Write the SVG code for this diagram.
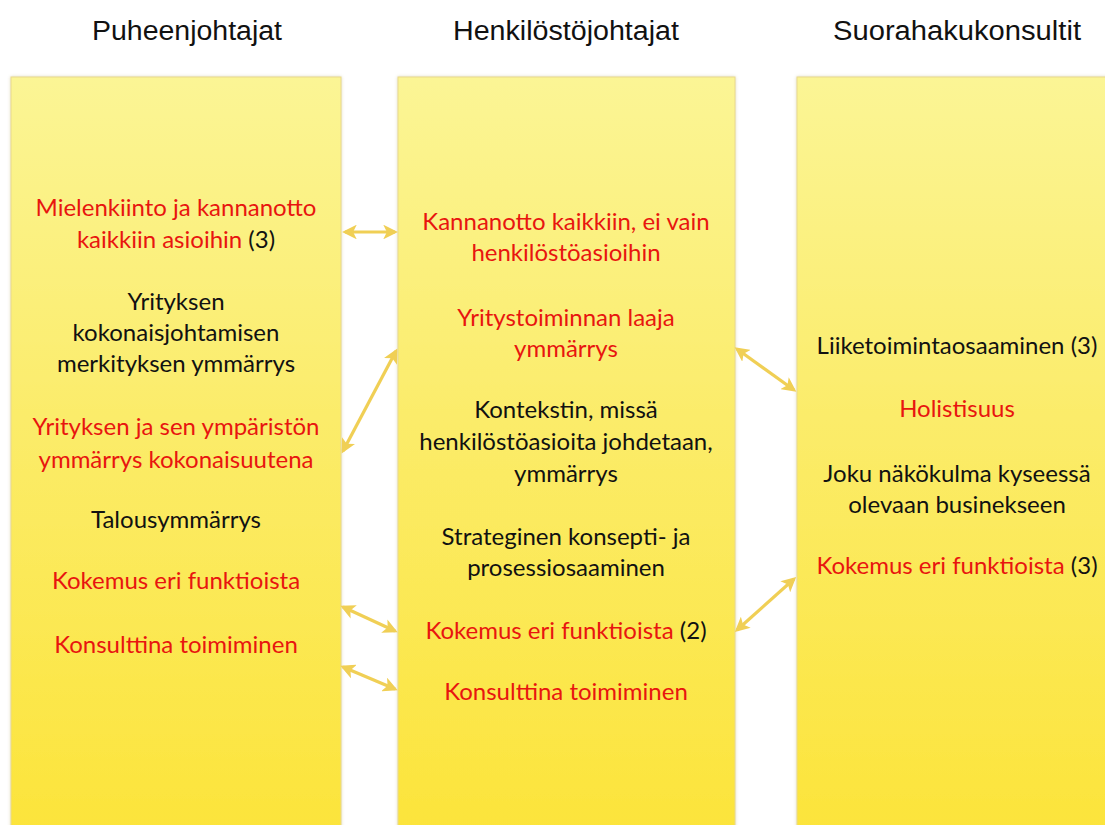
<svg xmlns="http://www.w3.org/2000/svg" width="1105" height="825" viewBox="0 0 1105 825">
  <defs>
    <linearGradient id="colFill" x1="0" y1="0" x2="0" y2="1">
      <stop offset="0" stop-color="#FBF595"/>
      <stop offset="0.45" stop-color="#FBEC6A"/>
      <stop offset="1" stop-color="#FCE43A"/>
    </linearGradient>
    <filter id="soft" x="-5%" y="-5%" width="110%" height="110%">
      <feGaussianBlur in="SourceAlpha" stdDeviation="1.5"/>
      <feOffset dx="0" dy="0" result="b"/>
      <feFlood flood-color="#9a8a40" flood-opacity="0.35"/>
      <feComposite in2="b" operator="in"/>
      <feMerge><feMergeNode/><feMergeNode in="SourceGraphic"/></feMerge>
    </filter>
    <marker id="head" viewBox="0 0 10 10" refX="8" refY="5" markerWidth="4.6" markerHeight="4.6" orient="auto-start-reverse" markerUnits="strokeWidth">
      <path d="M0,0 L10,5 L0,10 L2.5,5 z" fill="#F0CF55"/>
    </marker>
  </defs>
  <style>
    .col { fill: url(#colFill); stroke: #EAD98C; stroke-width: 1; }
    .head { font-family: "Liberation Sans", Arial, sans-serif; font-size: 27px; fill: #111; text-anchor: middle; }
    .t { font-family: Lato, "Open Sans", sans-serif; font-size: 24px; text-anchor: middle; fill: #111; }
    .r { fill: #E8150F; }
    .k { fill: #111; }
    .arrow { stroke: #F0CF55; stroke-width: 3.2; fill: none; marker-start: url(#head); marker-end: url(#head); }
  </style>

  <rect width="1105" height="825" fill="#FFFFFF"/>

  <!-- column headings -->
  <text class="head" x="187" y="40" textLength="190" lengthAdjust="spacingAndGlyphs">Puheenjohtajat</text>
  <text class="head" x="566" y="40" textLength="226" lengthAdjust="spacingAndGlyphs">Henkilöstöjohtajat</text>
  <text class="head" x="957" y="40" textLength="248" lengthAdjust="spacingAndGlyphs">Suorahakukonsultit</text>

  <!-- left column -->
  <g id="puheenjohtajat">
    <rect class="col" x="11" y="77" width="330" height="760" filter="url(#soft)"/>
    <text class="t r" x="176" y="216">Mielenkiinto ja kannanotto</text>
    <text class="t" x="176" y="248"><tspan class="r">kaikkiin asioihin</tspan> <tspan class="k">(3)</tspan></text>
    <text class="t" x="176" y="310">Yrityksen</text>
    <text class="t" x="176" y="341">kokonaisjohtamisen</text>
    <text class="t" x="176" y="372">merkityksen ymmärrys</text>
    <text class="t r" x="176" y="435">Yrityksen ja sen ympäristön</text>
    <text class="t r" x="176" y="468">ymmärrys kokonaisuutena</text>
    <text class="t" x="176" y="528">Talousymmärrys</text>
    <text class="t r" x="176" y="589">Kokemus eri funktioista</text>
    <text class="t r" x="176" y="653">Konsulttina toimiminen</text>
  </g>

  <!-- middle column -->
  <g id="henkilostojohtajat">
    <rect class="col" x="398" y="77" width="337" height="760" filter="url(#soft)"/>
    <text class="t r" x="566" y="230">Kannanotto kaikkiin, ei vain</text>
    <text class="t r" x="566" y="261">henkilöstöasioihin</text>
    <text class="t r" x="566" y="326">Yritystoiminnan laaja</text>
    <text class="t r" x="566" y="357">ymmärrys</text>
    <text class="t" x="566" y="418">Kontekstin, missä</text>
    <text class="t" x="566" y="450">henkilöstöasioita johdetaan,</text>
    <text class="t" x="566" y="482">ymmärrys</text>
    <text class="t" x="566" y="545">Strateginen konsepti- ja</text>
    <text class="t" x="566" y="576">prosessiosaaminen</text>
    <text class="t" x="566" y="639"><tspan class="r">Kokemus eri funktioista</tspan> <tspan class="k">(2)</tspan></text>
    <text class="t r" x="566" y="700">Konsulttina toimiminen</text>
  </g>

  <!-- right column -->
  <g id="suorahakukonsultit">
    <rect class="col" x="797" y="77" width="330" height="760" filter="url(#soft)"/>
    <text class="t" x="957" y="354">Liiketoimintaosaaminen (3)</text>
    <text class="t r" x="957" y="417">Holistisuus</text>
    <text class="t" x="957" y="482">Joku näkökulma kyseessä</text>
    <text class="t" x="957" y="513">olevaan businekseen</text>
    <text class="t" x="957" y="574"><tspan class="r">Kokemus eri funktioista</tspan> <tspan class="k">(3)</tspan></text>
  </g>

  <!-- two-headed connectors between columns -->
  <g id="connectors">
    <line class="arrow" x1="345" y1="232" x2="395" y2="232"/>
    <line class="arrow" x1="343" y1="451" x2="396" y2="351"/>
    <line class="arrow" x1="737" y1="349" x2="794" y2="390"/>
    <line class="arrow" x1="737" y1="630" x2="794" y2="579"/>
    <line class="arrow" x1="343" y1="607" x2="395" y2="631"/>
    <line class="arrow" x1="343" y1="667" x2="395" y2="689"/>
  </g>
</svg>
